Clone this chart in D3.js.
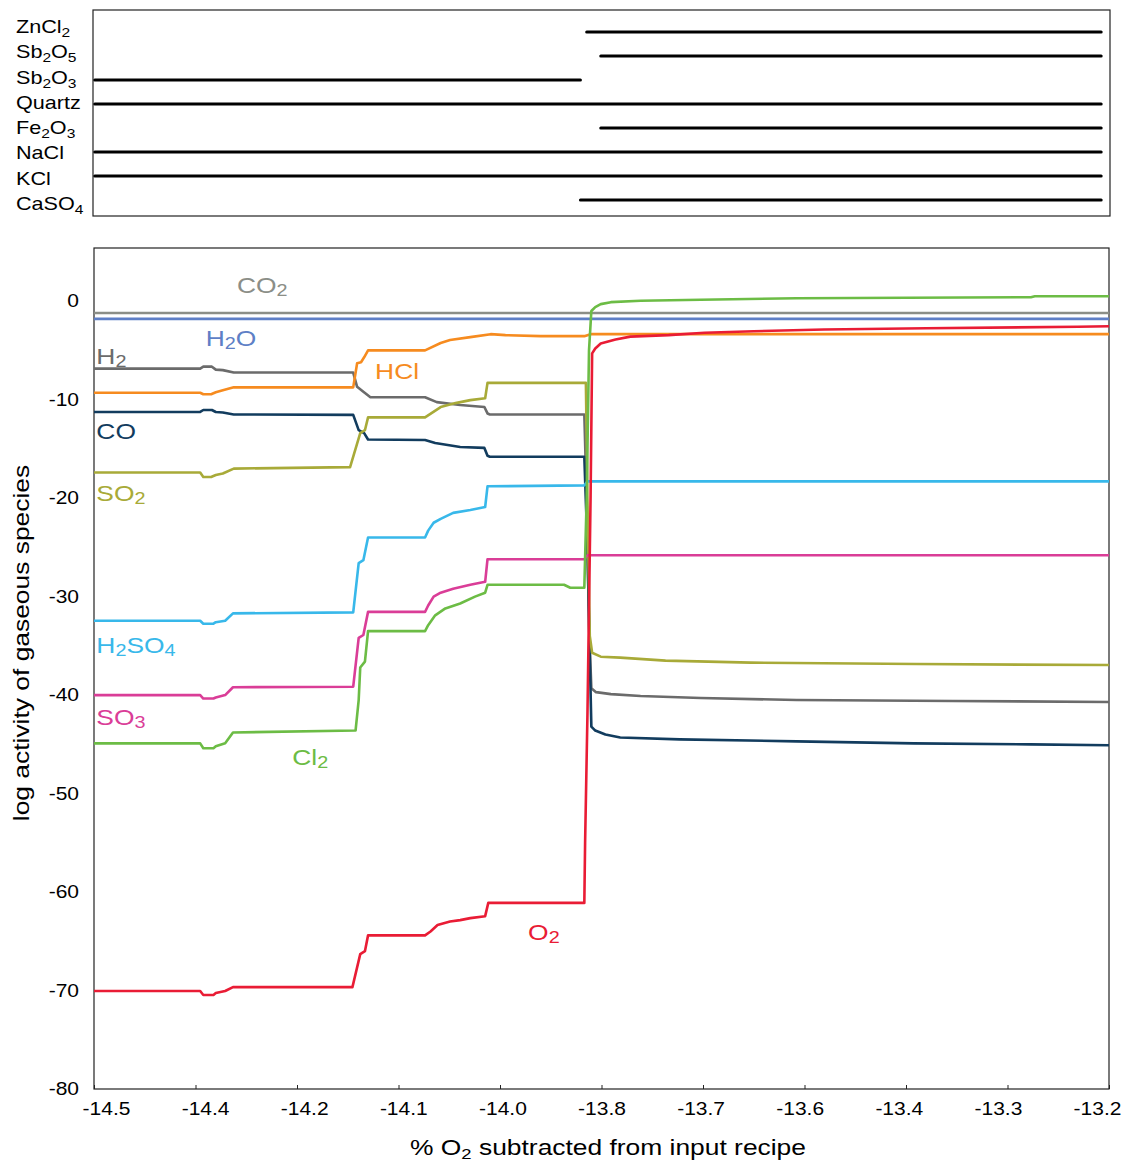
<!DOCTYPE html>
<html>
<head>
<meta charset="utf-8">
<script src="https://cdn.jsdelivr.net/npm/d3@7"></script>
<style>
  body { margin: 0; background: #fff; }
  svg { display: block; font-family: "Liberation Sans", Arial, Helvetica, sans-serif; }
</style>
</head>
<body>
<div id="chart"></div>
<script>
// axis ticks
const xDomain = [-14.5, -13.2];
const yDomain = [-80, 5.4];
const xTickLabels = ["-14.5", "-14.4", "-14.2", "-14.1", "-14.0", "-13.8", "-13.7", "-13.6", "-13.4", "-13.3", "-13.2"];
const yTicks = [0, -10, -20, -30, -40, -50, -60, -70, -80];

// stable solid phases (top panel)
const phases = ["ZnCl2", "Sb2O5", "Sb2O3", "Quartz", "Fe2O3", "NaCl", "KCl", "CaSO4"];
const phaseStart = [-13.869, -13.851, -14.499, -14.499, -13.851, -14.499, -14.499, -13.877];
const phaseEnd = [-13.21, -13.21, -13.877, -13.21, -13.21, -13.21, -13.21, -13.21];

// gaseous species, [x (% O2), log activity]
const co2 = [[-14.5, -1.2], [-13.2, -1.2]];
const h2o = [[-14.5, -1.8], [-13.2, -1.8]];
const h2 = [[-14.5, -6.85], [-14.364, -6.85], [-14.36, -6.65], [-14.349, -6.65], [-14.344, -6.95], [-14.335, -7.0],
  [-14.321, -7.25], [-14.168, -7.25], [-14.163, -8.7], [-14.155, -9.2], [-14.146, -9.75], [-14.076, -9.75],
  [-14.061, -10.25], [-14.031, -10.55], [-14.0, -10.75], [-13.996, -11.4], [-13.993, -11.5], [-13.872, -11.5],
  [-13.869, -20], [-13.866, -33], [-13.863, -39.3], [-13.857, -39.7], [-13.838, -39.9], [-13.8, -40.1],
  [-13.723, -40.3], [-13.6, -40.5], [-13.4, -40.6], [-13.2, -40.7]];
const co = [[-14.5, -11.25], [-14.364, -11.25], [-14.36, -11.05], [-14.349, -11.05], [-14.344, -11.25], [-14.335, -11.3],
  [-14.321, -11.5], [-14.168, -11.55], [-14.161, -13.1], [-14.154, -13.4], [-14.149, -14.05], [-14.076, -14.1],
  [-14.063, -14.4], [-14.031, -14.8], [-14.0, -14.9], [-13.996, -15.7], [-13.993, -15.8], [-13.872, -15.8],
  [-13.868, -25], [-13.865, -36], [-13.863, -43.2], [-13.858, -43.6], [-13.845, -44.0], [-13.826, -44.3],
  [-13.75, -44.5], [-13.6, -44.7], [-13.45, -44.9], [-13.3, -45.0], [-13.2, -45.1]];
const hcl = [[-14.5, -9.3], [-14.364, -9.3], [-14.36, -9.45], [-14.35, -9.45], [-14.344, -9.25], [-14.335, -9.05],
  [-14.321, -8.75], [-14.168, -8.75], [-14.163, -6.3], [-14.158, -6.2], [-14.154, -5.7], [-14.149, -5.0],
  [-14.076, -5.0], [-14.056, -4.25], [-14.044, -3.95], [-14.018, -3.65], [-13.992, -3.35], [-13.973, -3.45],
  [-13.928, -3.55], [-13.872, -3.55], [-13.864, -3.35], [-13.2, -3.35]];
const so2 = [[-14.5, -17.4], [-14.364, -17.4], [-14.36, -17.85], [-14.35, -17.85], [-14.344, -17.65], [-14.335, -17.5],
  [-14.321, -17.0], [-14.172, -16.85], [-14.159, -13.4], [-14.153, -13.1], [-14.149, -11.8], [-14.076, -11.8],
  [-14.056, -10.75], [-14.037, -10.35], [-14.018, -10.05], [-13.999, -9.85], [-13.996, -8.3], [-13.87, -8.3],
  [-13.868, -20], [-13.865, -34], [-13.862, -35.7], [-13.851, -36.1], [-13.826, -36.2], [-13.768, -36.5],
  [-13.659, -36.7], [-13.447, -36.85], [-13.2, -36.95]];
const h2so4 = [[-14.5, -32.45], [-14.364, -32.45], [-14.36, -32.75], [-14.347, -32.75], [-14.344, -32.6], [-14.332, -32.45],
  [-14.322, -31.7], [-14.168, -31.6], [-14.161, -26.6], [-14.155, -26.3], [-14.149, -24.0], [-14.076, -24.0],
  [-14.072, -23.3], [-14.065, -22.5], [-14.056, -22.1], [-14.04, -21.5], [-14.018, -21.2], [-13.999, -20.9],
  [-13.996, -18.8], [-13.872, -18.7], [-13.868, -18.3], [-13.2, -18.3]];
const so3 = [[-14.5, -40.0], [-14.364, -40.0], [-14.36, -40.35], [-14.347, -40.35], [-14.344, -40.25], [-14.332, -40.0],
  [-14.322, -39.2], [-14.168, -39.15], [-14.161, -34.2], [-14.155, -33.9], [-14.149, -31.55], [-14.076, -31.55],
  [-14.072, -30.9], [-14.065, -30.0], [-14.056, -29.6], [-14.04, -29.2], [-14.018, -28.8], [-13.999, -28.5],
  [-13.996, -26.2], [-13.872, -26.2], [-13.868, -25.8], [-13.2, -25.8]];
const cl2 = [[-14.5, -44.9], [-14.364, -44.9], [-14.36, -45.4], [-14.347, -45.4], [-14.344, -45.2], [-14.332, -44.9],
  [-14.322, -43.8], [-14.165, -43.6], [-14.161, -40.5], [-14.159, -37.2], [-14.153, -36.6], [-14.149, -33.5],
  [-14.076, -33.5], [-14.072, -32.9], [-14.063, -31.9], [-14.05, -31.2], [-14.031, -30.7], [-14.012, -30.0],
  [-13.999, -29.6], [-13.996, -28.8], [-13.898, -28.8], [-13.89, -29.1], [-13.872, -29.1], [-13.869, -20],
  [-13.866, -5], [-13.863, -1.0], [-13.858, -0.6], [-13.851, -0.3], [-13.838, -0.1], [-13.8, 0.05],
  [-13.723, 0.15], [-13.6, 0.3], [-13.3, 0.4], [-13.295, 0.5], [-13.2, 0.5]];
const o2 = [[-14.5, -70.05], [-14.364, -70.05], [-14.36, -70.45], [-14.347, -70.45], [-14.344, -70.25], [-14.332, -70.05],
  [-14.322, -69.65], [-14.169, -69.65], [-14.159, -66.3], [-14.153, -66.0], [-14.149, -64.4], [-14.076, -64.4],
  [-14.069, -64.0], [-14.06, -63.35], [-14.044, -63.0], [-14.031, -62.85], [-14.018, -62.65], [-13.999, -62.45],
  [-13.995, -61.1], [-13.872, -61.1], [-13.871, -55], [-13.868, -42], [-13.864, -20], [-13.862, -5.3],
  [-13.858, -4.8], [-13.851, -4.3], [-13.832, -3.9], [-13.813, -3.6], [-13.764, -3.45], [-13.718, -3.2],
  [-13.655, -3.05], [-13.565, -2.87], [-13.434, -2.75], [-13.24, -2.6], [-13.2, -2.55]];

const species = ["CO2", "H2O", "H2", "CO", "HCl", "SO2", "H2SO4", "SO3", "Cl2", "O2"];
const seriesValues = [co2, h2o, h2, co, hcl, so2, h2so4, so3, cl2, o2];
// where each species name is written, [x, log activity]
const labelAt = [[-14.317, 0.83], [-14.357, -4.55], [-14.497, -6.33], [-14.497, -13.98], [-14.14, -7.94],
  [-14.497, -20.3], [-14.497, -35.7], [-14.497, -43.0], [-14.246, -47.1], [-13.944, -64.9]];

const colors = {
  CO2: "#8b8e87", H2O: "#5e7fc6", H2: "#6b6b6b", CO: "#123c5e", HCl: "#f68b1f",
  SO2: "#a8aa38", H2SO4: "#38b8ea", SO3: "#da3d97", Cl2: "#6cbc45", O2: "#e91c35"
};

const W = 1122, H = 1164;
const SX = 1.2; // the figure's lettering is horizontally wide
const topBox = {left: 93, right: 1110, top: 10, bottom: 216};
const mainBox = {left: 94, right: 1109, top: 248, bottom: 1089};

const svg = d3.select("#chart").append("svg")
  .attr("width", W)
  .attr("height", H);

const x = d3.scaleLinear().domain(xDomain).range([mainBox.left, mainBox.right]);
const y = d3.scaleLinear().domain(yDomain).range([mainBox.bottom, mainBox.top]);

// writes a formula, digits as subscripts
function chem(g, str, o) {
  const t = g.append("text")
    .attr("transform", `translate(${o.x},${o.y}) scale(${SX},1)`)
    .attr("text-anchor", o.anchor || "start")
    .attr("fill", o.fill || "#000")
    .style("font-size", o.size + "px");
  const parts = str.match(/\d+|\D+/g);
  let low = false;
  parts.forEach(p => {
    const isSub = /\d/.test(p);
    const ts = t.append("tspan").text(p);
    if (isSub) {
      ts.style("font-size", (o.size * o.sub) + "px").attr("dy", o.shift);
      low = true;
    } else if (low) {
      ts.attr("dy", -o.shift);
      low = false;
    }
  });
  return t;
}

// ---- top panel ----
const rowY = d3.scalePoint().domain(phases).range([32, 200]);
const rowText = d3.scalePoint().domain(phases).range([33, 210]);

svg.append("rect")
  .attr("x", topBox.left).attr("y", topBox.top)
  .attr("width", topBox.right - topBox.left).attr("height", topBox.bottom - topBox.top)
  .attr("fill", "none").attr("stroke", "#222").attr("stroke-width", 1.2);

svg.append("g").selectAll("line")
  .data(phases)
  .join("line")
  .attr("x1", (d, i) => x(phaseStart[i]))
  .attr("x2", (d, i) => x(phaseEnd[i]))
  .attr("y1", d => rowY(d))
  .attr("y2", d => rowY(d))
  .attr("stroke", "#000")
  .attr("stroke-width", 3)
  .attr("stroke-linecap", "round");

const phaseLabels = svg.append("g");
phases.forEach(p => chem(phaseLabels, p, {x: 16, y: rowText(p), size: 18, sub: 0.72, shift: 4}));

// ---- main panel ----
svg.append("rect")
  .attr("x", mainBox.left).attr("y", mainBox.top)
  .attr("width", mainBox.right - mainBox.left).attr("height", mainBox.bottom - mainBox.top)
  .attr("fill", "none").attr("stroke", "#222").attr("stroke-width", 1.2);

const xTickValues = xTickLabels.map((_, i) => xDomain[0] + i * (xDomain[1] - xDomain[0]) / (xTickLabels.length - 1));
// the printed labels sit on a slightly narrower spread than the tick marks
const labelX = d3.scalePoint().domain(d3.range(xTickLabels.length)).range([106, 1097]);

const xAxis = svg.append("g")
  .attr("transform", `translate(0,${mainBox.bottom})`)
  .call(d3.axisBottom(x).tickValues(xTickValues).tickFormat((d, i) => xTickLabels[i])
    .tickSizeInner(-4).tickSizeOuter(0).tickPadding(14));
xAxis.select(".domain").remove();
xAxis.selectAll("line").attr("stroke", "#222");
xAxis.selectAll("text")
  .attr("x", (d, i) => (labelX(i) - x(d)) / SX)
  .attr("transform", `scale(${SX},1)`)
  .attr("fill", "#000")
  .style("font-size", "17.5px")
  .style("font-family", "'Liberation Sans', Arial, sans-serif");

const yAxis = svg.append("g")
  .attr("transform", `translate(${mainBox.left},0)`)
  .call(d3.axisLeft(y).tickValues(yTicks).tickFormat(d => String(d)).tickSize(0));
yAxis.select(".domain").remove();
yAxis.selectAll("text")
  .attr("x", -15 / SX)
  .attr("transform", `scale(${SX},1)`)
  .attr("fill", "#000")
  .style("font-size", "17.5px")
  .style("font-family", "'Liberation Sans', Arial, sans-serif");

const line = d3.line()
  .x(d => x(d[0]))
  .y(d => y(d[1]));

svg.append("g").selectAll("path")
  .data(species)
  .join("path")
  .attr("d", (d, i) => line(seriesValues[i]))
  .attr("fill", "none")
  .attr("stroke", d => colors[d])
  .attr("stroke-width", 2.6)
  .attr("stroke-linejoin", "round");

const names = svg.append("g");
species.forEach((s, i) => chem(names, s, {
  x: x(labelAt[i][0]), y: y(labelAt[i][1]), size: 22, sub: 0.75, shift: 3, fill: colors[s]
}));

// axis titles
chem(svg, "% O2 subtracted from input recipe", {x: 608, y: 1155, size: 22, sub: 0.7, shift: 4, anchor: "middle"});

svg.append("text")
  .attr("transform", `translate(29,643) rotate(-90) scale(${SX},1)`)
  .attr("text-anchor", "middle")
  .style("font-size", "22px")
  .text("log activity of gaseous species");
</script>
</body>
</html>
